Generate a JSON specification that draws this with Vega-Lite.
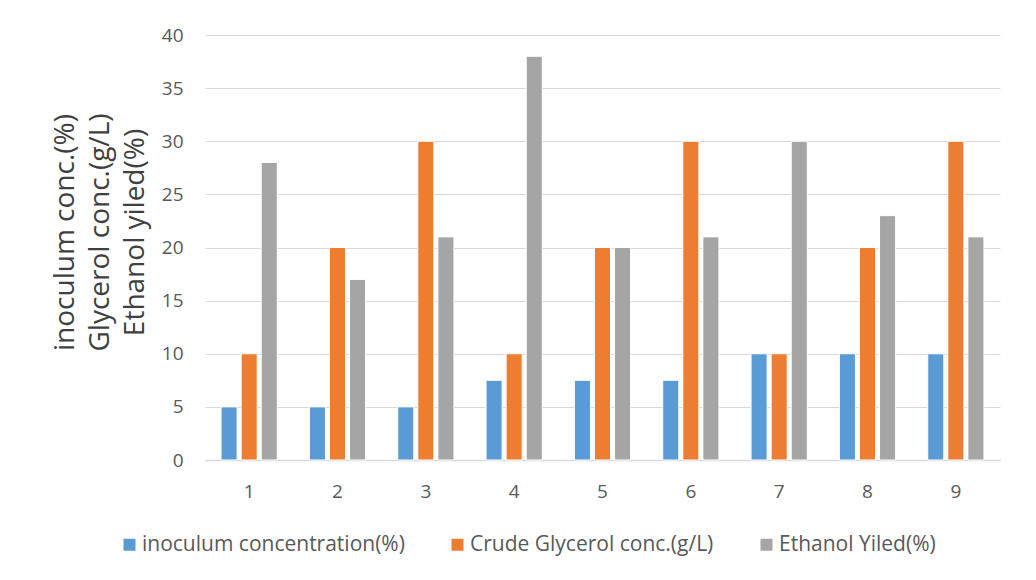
{
  "$schema": "https://vega.github.io/schema/vega-lite/v6.json",
  "autosize": "none",
  "width": 795,
  "height": 425,
  "padding": {"left": 205, "top": 35, "right": 36, "bottom": 120},
  "background": "white",
  "data": {
    "values": [
      {"run": "1", "series": "inoculum concentration(%)", "value": 5},
      {"run": "1", "series": "Crude Glycerol conc.(g/L)", "value": 10},
      {"run": "1", "series": "Ethanol Yiled(%)", "value": 28},
      {"run": "2", "series": "inoculum concentration(%)", "value": 5},
      {"run": "2", "series": "Crude Glycerol conc.(g/L)", "value": 20},
      {"run": "2", "series": "Ethanol Yiled(%)", "value": 17},
      {"run": "3", "series": "inoculum concentration(%)", "value": 5},
      {"run": "3", "series": "Crude Glycerol conc.(g/L)", "value": 30},
      {"run": "3", "series": "Ethanol Yiled(%)", "value": 21},
      {"run": "4", "series": "inoculum concentration(%)", "value": 7.5},
      {"run": "4", "series": "Crude Glycerol conc.(g/L)", "value": 10},
      {"run": "4", "series": "Ethanol Yiled(%)", "value": 38},
      {"run": "5", "series": "inoculum concentration(%)", "value": 7.5},
      {"run": "5", "series": "Crude Glycerol conc.(g/L)", "value": 20},
      {"run": "5", "series": "Ethanol Yiled(%)", "value": 20},
      {"run": "6", "series": "inoculum concentration(%)", "value": 7.5},
      {"run": "6", "series": "Crude Glycerol conc.(g/L)", "value": 30},
      {"run": "6", "series": "Ethanol Yiled(%)", "value": 21},
      {"run": "7", "series": "inoculum concentration(%)", "value": 10},
      {"run": "7", "series": "Crude Glycerol conc.(g/L)", "value": 10},
      {"run": "7", "series": "Ethanol Yiled(%)", "value": 30},
      {"run": "8", "series": "inoculum concentration(%)", "value": 10},
      {"run": "8", "series": "Crude Glycerol conc.(g/L)", "value": 20},
      {"run": "8", "series": "Ethanol Yiled(%)", "value": 23},
      {"run": "9", "series": "inoculum concentration(%)", "value": 10},
      {"run": "9", "series": "Crude Glycerol conc.(g/L)", "value": 30},
      {"run": "9", "series": "Ethanol Yiled(%)", "value": 21}
    ]
  },
  "mark": {"type": "bar", "stroke": "white", "strokeWidth": 1},
  "encoding": {
    "x": {
      "field": "run",
      "type": "ordinal",
      "scale": {"paddingInner": 0, "paddingOuter": 0},
      "axis": {
        "title": null,
        "labelAngle": 0,
        "ticks": false,
        "labelPadding": 22,
        "domainColor": "#D9D9D9",
        "domainWidth": 1.5
      }
    },
    "xOffset": {
      "field": "series",
      "type": "nominal",
      "sort": ["inoculum concentration(%)", "Crude Glycerol conc.(g/L)", "Ethanol Yiled(%)"],
      "scale": {"paddingInner": 0.2, "paddingOuter": 0.8}
    },
    "y": {
      "field": "value",
      "type": "quantitative",
      "scale": {"domain": [0, 40], "nice": false},
      "axis": {
        "values": [0, 5, 10, 15, 20, 25, 30, 35, 40],
        "title": ["inoculum conc.(%)", "Glycerol conc.(g/L)", "Ethanol yiled(%)"],
        "titleFontSize": 28,
        "titleFontWeight": "normal",
        "titleColor": "#404040",
        "titleLineHeight": 35,
        "titlePadding": 12,
        "titleY": 197,
        "domain": false,
        "ticks": false,
        "labelPadding": 22,
        "gridColor": "#D9D9D9",
        "gridWidth": 1.2
      }
    },
    "color": {
      "field": "series",
      "type": "nominal",
      "sort": ["inoculum concentration(%)", "Crude Glycerol conc.(g/L)", "Ethanol Yiled(%)"],
      "scale": {"range": ["#5B9BD5", "#ED7D31", "#A5A5A5"]},
      "legend": {
        "title": null,
        "orient": "none",
        "direction": "horizontal",
        "legendX": -86,
        "legendY": 499,
        "symbolType": "square",
        "symbolSize": 144,
        "symbolStrokeWidth": 0,
        "labelFontSize": 21,
        "labelColor": "#595959",
        "labelOffset": 2,
        "labelLimit": 400,
        "columnPadding": 42
      }
    }
  },
  "config": {
    "font": "Open Sans",
    "view": {"stroke": null},
    "axis": {
      "labelFont": "Open Sans",
      "titleFont": "Open Sans",
      "labelFontSize": 19,
      "labelColor": "#595959"
    },
    "legend": {"labelFont": "Open Sans"}
  }
}
